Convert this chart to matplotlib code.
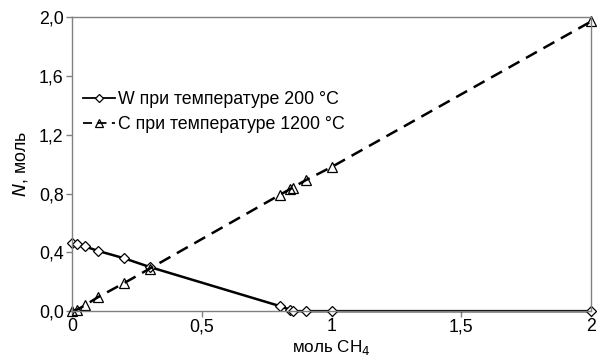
import matplotlib
matplotlib.use("Agg")
import matplotlib.pyplot as plt

x = [0, 0.02, 0.05, 0.1, 0.2, 0.3, 0.8, 0.84, 0.85, 0.9, 1.0, 2.0]
w_200 = [0.465, 0.455, 0.44, 0.41, 0.36, 0.30, 0.035, 0.01, 0.0, 0.0, 0.0, 0.0]
c_1200 = [0.0, 0.01, 0.04, 0.095, 0.19, 0.29, 0.79, 0.83, 0.84, 0.89, 0.98, 1.97]
xticks = [0, 0.5, 1, 1.5, 2]
xticklabels = ["0", "0,5", "1", "1,5", "2"]
yticks = [0.0, 0.4, 0.8, 1.2, 1.6, 2.0]
yticklabels = ["0,0", "0,4", "0,8", "1,2", "1,6", "2,0"]

plt.rcParams['font.family'] = ['Liberation Sans', 'DejaVu Sans']
fs = 12.8
fig = plt.figure(figsize=(6, 3.56), dpi=100)
ax = fig.add_axes([0.12, 0.126, 0.865, 0.826])

ax.plot(x, w_200, color='black', lw=1.8, marker='D', ms=5.5, mfc='white',
        mec='black', mew=0.9, label='W при температуре 200 °С', clip_on=False)
ax.plot(x, c_1200, color='black', lw=1.8, ls=(0, (5, 3)), marker='^', ms=7.5,
        mfc='none', mec='black', mew=0.9, label='С при температуре 1200 °С',
        clip_on=False)

ax.set_xlim(0, 2)
ax.set_ylim(0, 2)
ax.set_xticks(xticks)
ax.set_xticklabels(xticklabels, fontsize=fs)
ax.set_yticks(yticks)
ax.set_yticklabels(yticklabels, fontsize=fs)
for s in ax.spines.values():
    s.set_color('#808080')
    s.set_linewidth(1.0)
ax.tick_params(direction='out', length=4, color='#808080', width=1, pad=2)
ax.tick_params(axis='x', pad=1)

ax.set_xlabel('моль CH$_4$', fontsize=12.3)
ax.xaxis.set_label_coords(0.5, -0.09)
ax.set_ylabel(r'$\it{N}$, моль', fontsize=fs, labelpad=6)

leg = ax.legend(loc='upper left', bbox_to_anchor=(0.0, 0.785), frameon=False,
                fontsize=fs, handlelength=1.8, handletextpad=0.2,
                labelspacing=0.45, borderaxespad=0.2, markerscale=0.7)
for line in leg.get_lines():
    line.set_linewidth(1.3)

fig.savefig('out.png', dpi=100)
